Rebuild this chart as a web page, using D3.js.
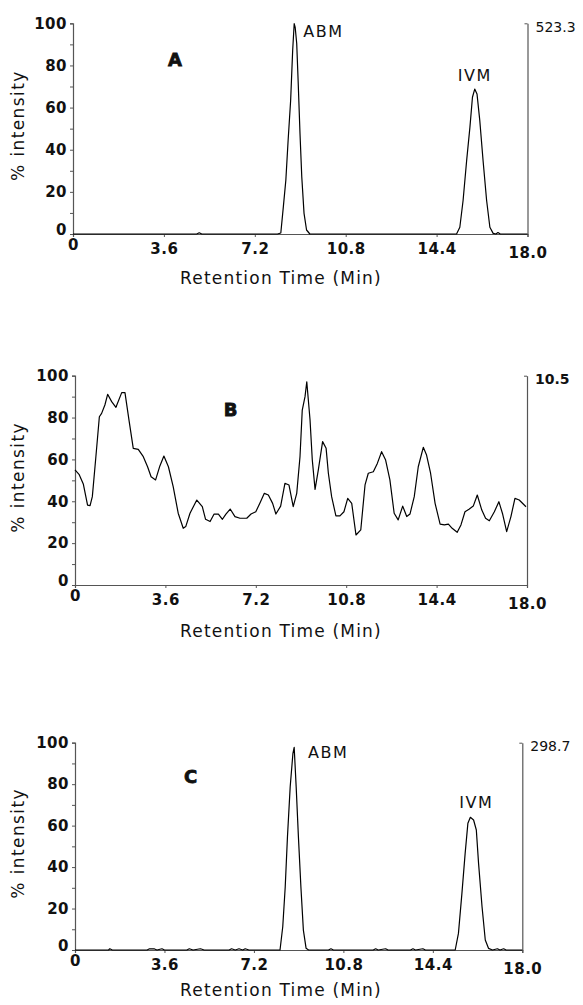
<!DOCTYPE html>
<html><head><meta charset="utf-8">
<script src="https://cdn.jsdelivr.net/npm/d3@7"></script>
<style>
html,body{margin:0;padding:0;background:#fff;}
svg{display:block;}
text{font-family:"DejaVu Sans",Verdana,sans-serif;fill:#111;}
</style></head>
<body>
<svg id="chart" width="583" height="1005"></svg>
<script>
// ---- data ----
const xTickValues = [0, 3.6, 7.2, 10.8, 14.4, 18.0];
const xTickLabels = ["0", "3.6", "7.2", "10.8", "14.4", "18.0"];
const yTickValues = [0, 10, 20, 30, 40, 50, 60, 70, 80, 90, 100];
const yLabelValues = [0, 20, 40, 60, 80, 100];
const panelNames = ["A", "B", "C"];
const fullScale = ["523.3", "10.5", "298.7"];
const xTitle = "Retention Time (Min)";
const yTitle = "% intensity";

// panel A: [time (min), % intensity]
const seriesA = [[0,0],[4.9,0],[5.0,0.6],[5.1,0],[8.10,0],[8.23,0.5],[8.33,12.9],[8.43,25.6],[8.52,44.5],[8.62,63.5],[8.70,87.2],[8.76,99.8],[8.80,98],[8.86,90.4],[8.92,71.4],[8.99,47.7],[9.06,27.2],[9.15,9.8],[9.25,1.9],[9.38,0],[15.19,0],[15.32,3.2],[15.45,16],[15.59,34.9],[15.72,50.7],[15.82,64.9],[15.91,68.8],[16.0,66.5],[16.11,53.9],[16.24,34.9],[16.38,16],[16.51,3.2],[16.64,0.3],[16.75,0],[16.83,0.7],[16.92,0],[18,0]];
// panel B
const seriesB = [[0,55],[0.16,52.9],[0.33,48.3],[0.5,38.2],[0.6,37.9],[0.69,42.2],[0.82,59.7],[0.97,80.4],[1.06,82],[1.19,86],[1.3,91.1],[1.46,87.6],[1.63,84.9],[1.86,91.9],[1.99,91.9],[2.15,78.8],[2.32,65.3],[2.52,64.8],[2.72,61.3],[2.89,56.5],[3.03,51.7],[3.21,50.2],[3.38,56.9],[3.54,61.6],[3.72,56.5],[3.91,47],[4.11,34.3],[4.31,27.1],[4.41,27.9],[4.58,34.3],[4.85,40.6],[5.07,37.4],[5.2,31.4],[5.38,30.3],[5.54,33.9],[5.71,33.9],[5.87,31.4],[6.01,33.9],[6.18,36.3],[6.37,32.7],[6.57,31.9],[6.84,31.9],[7.01,33.9],[7.2,35.0],[7.37,39.3],[7.54,43.8],[7.7,43.0],[7.87,39.0],[8.0,33.9],[8.19,37.7],[8.36,48.6],[8.52,47.8],[8.69,37.4],[8.83,43.8],[8.96,61.3],[9.05,83.6],[9.16,90.0],[9.23,97.1],[9.36,78.8],[9.45,59.7],[9.56,45.7],[9.69,55],[9.86,68.5],[10.0,65.3],[10.09,53.4],[10.22,42.2],[10.39,33.0],[10.55,33.0],[10.71,35.0],[10.86,41.4],[11.02,39.0],[11.19,23.9],[11.38,26.3],[11.55,47.8],[11.68,53.4],[11.88,54.1],[12.04,58.1],[12.21,63.7],[12.37,59.7],[12.54,50.2],[12.71,34.3],[12.87,31.1],[13.05,37.7],[13.21,32.7],[13.34,33.9],[13.51,42.2],[13.67,56.5],[13.87,65.8],[14.0,62.1],[14.16,53.4],[14.34,39.0],[14.54,29.1],[14.71,28.7],[14.87,29.1],[15.02,27.1],[15.22,25.2],[15.37,28.7],[15.53,35.0],[15.69,36.2],[15.86,37.7],[16.02,43.0],[16.2,35.8],[16.35,31.9],[16.5,30.7],[16.7,35.0],[16.88,39.8],[17.03,33.9],[17.19,25.5],[17.36,32.7],[17.52,41.4],[17.69,40.6],[17.96,37.4]];
// panel C
const seriesC = [[0,0],[1.35,0],[1.4,0.6],[1.5,0],[2.9,0],[3.0,0.6],[3.2,0.5],[3.3,0],[3.5,0.6],[3.6,0],[4.5,0],[4.6,0.6],[4.75,0],[5.05,0.6],[5.2,0],[6.2,0],[6.3,0.6],[6.45,0],[6.6,0.6],[6.75,0],[6.85,0.6],[7.0,0],[8.25,0],[8.36,11.2],[8.46,30.5],[8.55,54.7],[8.66,78.8],[8.77,94.9],[8.82,97.8],[8.90,78.8],[8.99,54.7],[9.09,30.5],[9.19,9.6],[9.30,0.8],[9.4,0],[10.2,0],[10.3,0.6],[10.4,0],[12.0,0],[12.1,0.6],[12.2,0],[12.5,0.6],[12.6,0],[13.5,0],[13.6,0.6],[13.7,0],[14.0,0.6],[14.1,0],[15.30,0],[15.43,8],[15.57,27.3],[15.70,46.6],[15.81,61.1],[15.91,64.0],[16.04,62.7],[16.15,57.9],[16.24,41.8],[16.38,20.9],[16.51,4.8],[16.64,0.8],[16.8,0],[17.0,0.6],[17.1,0],[17.25,0.6],[17.35,0],[18,0]];
// peak annotations: [panel index, label, time, % intensity of label centre, anchor]
const peakLabels = [[0,"ABM",9.12,96.3,"start"],[0,"IVM",15.91,75.5,"middle"],[2,"ABM",9.38,95.2,"start"],[2,"IVM",16.15,71.5,"middle"]];
// panel letter positions: [time, % intensity]
const letterPos = [[4.04,83],[6.2,84],[4.65,83.6]];

// ---- layout ----
const layout = [
  {x0:73, x1:527.5, top:23.3, zero:234, titleDy:50},
  {x0:75, x1:527, top:375.7, zero:585, titleDy:52},
  {x0:75, x1:522.3, top:742.7, zero:950, titleDy:46}
];
const series = [seriesA, seriesB, seriesC];
const svg = d3.select("#chart");
const axisColor = "#555";

layout.forEach((L, i) => {
  const x = d3.scaleLinear().domain([0, 18]).range([L.x0, L.x1]);
  const y = d3.scaleLinear().domain([0, 100]).range([L.zero, L.top]);
  const g = svg.append("g");

  // left axis
  const ya = g.append("g").attr("transform", `translate(${L.x0},0)`)
    .call(d3.axisLeft(y).tickValues(yTickValues).tickSize(3).tickPadding(3)
      .tickFormat(d => yLabelValues.includes(d) ? String(d) : ""));
  // x axis
  const xa = g.append("g").attr("transform", `translate(0,${L.zero})`)
    .call(d3.axisBottom(x).tickValues(xTickValues).tickSize(3).tickPadding(6)
      .tickFormat((d, k) => xTickLabels[k]));
  // right axis with full-scale value
  const ra = g.append("g").attr("transform", `translate(${L.x1},0)`)
    .call(d3.axisRight(y).tickValues([100]).tickSizeInner(-3).tickSizeOuter(0).tickPadding(8)
      .tickFormat(() => fullScale[i]));

  [ya, xa, ra].forEach(a => {
    a.select(".domain").attr("stroke", axisColor).attr("stroke-width", 1.2);
    a.selectAll(".tick line").attr("stroke", axisColor).attr("stroke-width", 1);
    a.selectAll("text").style("font-family", '"DejaVu Sans", sans-serif').attr("fill", "#111");
  });
  ya.selectAll("text").style("font-size", "15px").style("font-weight", "bold").style("letter-spacing", "0.5px");
  ya.selectAll(".tick").filter(d => d === 0).select("text").attr("y", -4);
  xa.selectAll("text").style("font-size", "15px").style("font-weight", "bold").style("letter-spacing", "0.5px");
  xa.selectAll(".tick").filter(d => d === 0).select("text").attr("y", 5);
  xa.selectAll(".tick").filter(d => d === 18).select("text").attr("y", 13);
  ra.selectAll("text").style("font-size", "14px").style("font-weight", i === 1 ? "bold" : "normal")
    .attr("dy", "0.55em");

  // data line
  const line = d3.line().x(d => x(d[0])).y(d => y(d[1]));
  g.append("path").datum(series[i]).attr("d", line)
    .attr("fill", "none").attr("stroke", "#000").attr("stroke-width", 1.2)
    .attr("stroke-linejoin", "round");

  // axis titles
  g.append("text").attr("x", 281).attr("y", L.zero + L.titleDy)
    .attr("text-anchor", "middle").style("font-size", "17px").style("letter-spacing", "1.2px")
    .text(xTitle);
  g.append("text").attr("transform", `translate(24,${(L.zero + L.top) / 2 - 3}) rotate(-90)`)
    .attr("text-anchor", "middle").style("font-size", "17px").style("letter-spacing", "1.4px")
    .text(yTitle);

  // panel letter
  g.append("text").attr("x", x(letterPos[i][0])).attr("y", y(letterPos[i][1]))
    .attr("text-anchor", "middle").attr("dy", "0.36em")
    .style("font-size", "18px").style("font-weight", "bold")
    .attr("stroke", "#111").attr("stroke-width", 0.8)
    .text(panelNames[i]);

  // peak labels
  peakLabels.filter(p => p[0] === i).forEach(p => {
    g.append("text").attr("x", x(p[2])).attr("y", y(p[3])).attr("dy", "0.36em")
      .attr("text-anchor", p[4])
      .style("font-size", "16px").style("letter-spacing", "1.5px")
      .text(p[1]);
  });
});
</script>
</body></html>
